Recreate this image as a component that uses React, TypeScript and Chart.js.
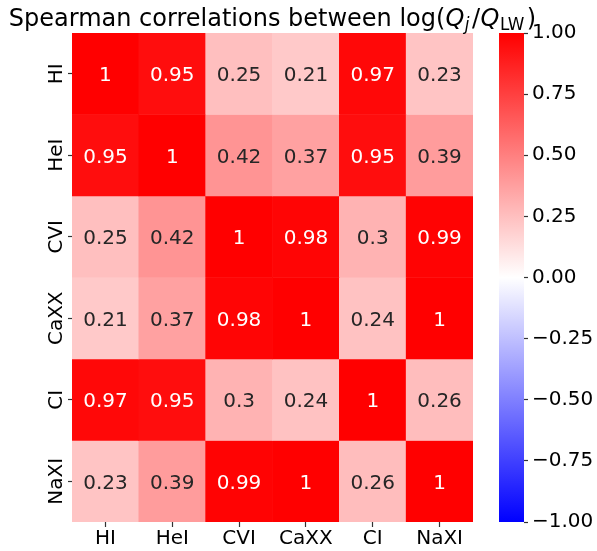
import React, { useEffect, useRef } from 'react';
import { Chart, registerables } from 'chart.js';

Chart.register(...registerables);

// ---- data ----
const categories = ['HI', 'HeI', 'CVI', 'CaXX', 'CI', 'NaXI'];
const rowHI = [1, 0.95, 0.25, 0.21, 0.97, 0.23];
const rowHeI = [0.95, 1, 0.42, 0.37, 0.95, 0.39];
const rowCVI = [0.25, 0.42, 1, 0.98, 0.3, 0.99];
const rowCaXX = [0.21, 0.37, 0.98, 1, 0.24, 1];
const rowCI = [0.97, 0.95, 0.3, 0.24, 1, 0.26];
const rowNaXI = [0.23, 0.39, 0.99, 1, 0.26, 1];
const matrix = [rowHI, rowHeI, rowCVI, rowCaXX, rowCI, rowNaXI];
const colorbarTicks = [-1, -0.75, -0.5, -0.25, 0, 0.25, 0.5, 0.75, 1];
const colorbarRange = [-1, 1];

const FONT = '"DejaVu Sans", "Liberation Sans", sans-serif';

function bwrRGB(v: number): [number, number, number] {
  const t = Math.max(0, Math.min(1, (v + 1) / 2));
  let r: number, g: number, b: number;
  if (t < 0.5) {
    r = 2 * t; g = 2 * t; b = 1;
  } else {
    r = 1; g = 2 * (1 - t); b = 2 * (1 - t);
  }
  return [Math.round(r * 255), Math.round(g * 255), Math.round(b * 255)];
}
function bwr(v: number) {
  const [r, g, b] = bwrRGB(v);
  return `rgb(${r},${g},${b})`;
}
function textColorFor(v: number) {
  const lin = (c: number) => {
    const s = c / 255;
    return s <= 0.03928 ? s / 12.92 : Math.pow((s + 0.055) / 1.055, 2.4);
  };
  const [r, g, b] = bwrRGB(v);
  const lum = 0.2126 * lin(r) + 0.7152 * lin(g) + 0.0722 * lin(b);
  return lum < 0.408 ? '#ffffff' : '#262626';
}
function fmt2g(v: number) {
  return String(parseFloat(v.toPrecision(2)));
}

const heatmapPlugin = {
  id: 'heatmapExtras',
  afterDraw(chart: any) {
    const { ctx, chartArea } = chart;
    const xs = chart.scales.x;
    const ys = chart.scales.y;
    ctx.save();
    // annotations
    ctx.font = `20px ${FONT}`;
    ctx.textAlign = 'center';
    ctx.textBaseline = 'alphabetic';
    matrix.forEach((row, i) => {
      row.forEach((v, j) => {
        const cx = xs.getPixelForValue(j);
        const cy = ys.getPixelForValue(i + 0.5);
        ctx.fillStyle = textColorFor(v);
        ctx.fillText(fmt2g(v), cx, cy + 0.365 * 20);
      });
    });
    // rotated y labels
    ctx.fillStyle = '#000';
    categories.forEach((lab, i) => {
      const cy = ys.getPixelForValue(i + 0.5);
      ctx.save();
      ctx.translate(chartArea.left - 10, cy);
      ctx.rotate(-Math.PI / 2);
      ctx.textAlign = 'center';
      ctx.textBaseline = 'alphabetic';
      ctx.fillText(lab, 0, 0);
      ctx.restore();
    });
    // title with math
    const big = 24;
    const small = big * 0.7;
    const segs = [
      { t: 'Spearman correlations between log(', f: `${big}px ${FONT}`, dy: 0, pre: 0, post: 0 },
      { t: 'Q', f: `italic ${big}px ${FONT}`, dy: 0, pre: 0, post: 0 },
      { t: 'j', f: `italic ${small}px ${FONT}`, dy: 4, pre: 0.5, post: 2.5 },
      { t: '/', f: `${big}px ${FONT}`, dy: 0, pre: 0, post: 0.5 },
      { t: 'Q', f: `italic ${big}px ${FONT}`, dy: 0, pre: 0, post: 0 },
      { t: 'LW', f: `${small}px ${FONT}`, dy: 4, pre: 0.5, post: 2.5 },
      { t: ')', f: `${big}px ${FONT}`, dy: 0, pre: 0, post: 0 },
    ];
    let total = 0;
    const widths = segs.map((s) => {
      ctx.font = s.f;
      const w = ctx.measureText(s.t).width + s.pre + s.post;
      total += w;
      return w;
    });
    let x = (chartArea.left + chartArea.right) / 2 - total / 2;
    const baseY = 26;
    ctx.fillStyle = '#000';
    ctx.textAlign = 'left';
    segs.forEach((s, k) => {
      ctx.font = s.f;
      ctx.fillText(s.t, x + s.pre, baseY + s.dy);
      x += widths[k];
    });
    ctx.restore();
  },
};

export default function App() {
  const mainRef = useRef<HTMLCanvasElement | null>(null);
  const barRef = useRef<HTMLCanvasElement | null>(null);

  useEffect(() => {
    if (!mainRef.current || !barRef.current) return;
    const main = new Chart(mainRef.current, {
      type: 'bar',
      data: {
        labels: categories,
        datasets: matrix.map((row, i) => ({
          label: categories[i],
          data: row.map(() => [i, i + 1]) as any,
          backgroundColor: row.map(bwr),
          borderWidth: 0,
          barPercentage: 1,
          categoryPercentage: 1,
          grouped: false,
        })),
      },
      options: {
        responsive: false,
        animation: false,
        devicePixelRatio: 1,
        layout: { padding: { top: 33, right: 124, left: 0, bottom: 0 } },
        plugins: { legend: { display: false }, tooltip: { enabled: false }, title: { display: false } },
        scales: {
          x: {
            type: 'category',
            grid: { offset: false, drawOnChartArea: false, drawTicks: true, tickLength: 5, color: '#333', tickWidth: 1.2 },
            border: { display: false },
            ticks: { font: { family: FONT, size: 20 }, color: '#000', padding: 0, maxRotation: 0, minRotation: 0, autoSkip: false },
            afterFit: (s: any) => { s.height = 29; },
          },
          y: {
            type: 'linear',
            min: 0,
            max: 6,
            reverse: true,
            afterBuildTicks: (s: any) => {
              s.ticks = categories.map((_, i) => ({ value: i + 0.5 }));
            },
            ticks: { callback: () => '', font: { family: FONT, size: 20 } },
            grid: { drawOnChartArea: false, drawTicks: true, tickLength: 4, color: '#333', tickWidth: 1.2 },
            border: { display: false },
            afterFit: (s: any) => { s.width = 72; },
          },
        },
      } as any,
      plugins: [heatmapPlugin],
    });

    const bar = new Chart(barRef.current, {
      type: 'bar',
      data: {
        labels: [''],
        datasets: [
          {
            data: [colorbarRange] as any,
            backgroundColor: (c: any) => {
              const ch = c.chart;
              const ys = ch.scales.y;
              if (!ch.chartArea || !ys) return 'red';
              const g = ch.ctx.createLinearGradient(0, ys.getPixelForValue(-1), 0, ys.getPixelForValue(1));
              g.addColorStop(0, bwr(-1));
              g.addColorStop(0.5, bwr(0));
              g.addColorStop(1, bwr(1));
              return g;
            },
            borderWidth: 0,
            barPercentage: 1,
            categoryPercentage: 1,
          },
        ],
      },
      options: {
        responsive: false,
        animation: false,
        devicePixelRatio: 1,
        layout: { padding: { top: 33, right: 0, left: 19, bottom: 29 } },
        plugins: { legend: { display: false }, tooltip: { enabled: false } },
        scales: {
          x: { display: false },
          y: {
            position: 'right',
            min: -1,
            max: 1,
            afterBuildTicks: (s: any) => {
              s.ticks = colorbarTicks.map((v) => ({ value: v }));
            },
            ticks: {
              font: { family: FONT, size: 20 },
              color: '#000',
              padding: 4,
              callback: (v: any) => Number(v).toFixed(2).replace('-', '\u2212'),
            },
            grid: { drawOnChartArea: false, drawTicks: true, tickLength: 4, color: '#333', tickWidth: 1.2 },
            border: { display: false },
            afterFit: (s: any) => { s.width = 73; },
          },
        },
      } as any,
    });

    return () => {
      main.destroy();
      bar.destroy();
    };
  }, []);

  return (
    <div style={{ position: 'absolute', left: 0, top: 0, width: 597, height: 551, background: '#fff' }}>
      <canvas ref={mainRef} width={597} height={551} style={{ position: 'absolute', left: 0, top: 0, display: 'block' }} />
      <canvas ref={barRef} width={117} height={551} style={{ position: 'absolute', left: 480, top: 0, display: 'block' }} />
    </div>
  );
}
